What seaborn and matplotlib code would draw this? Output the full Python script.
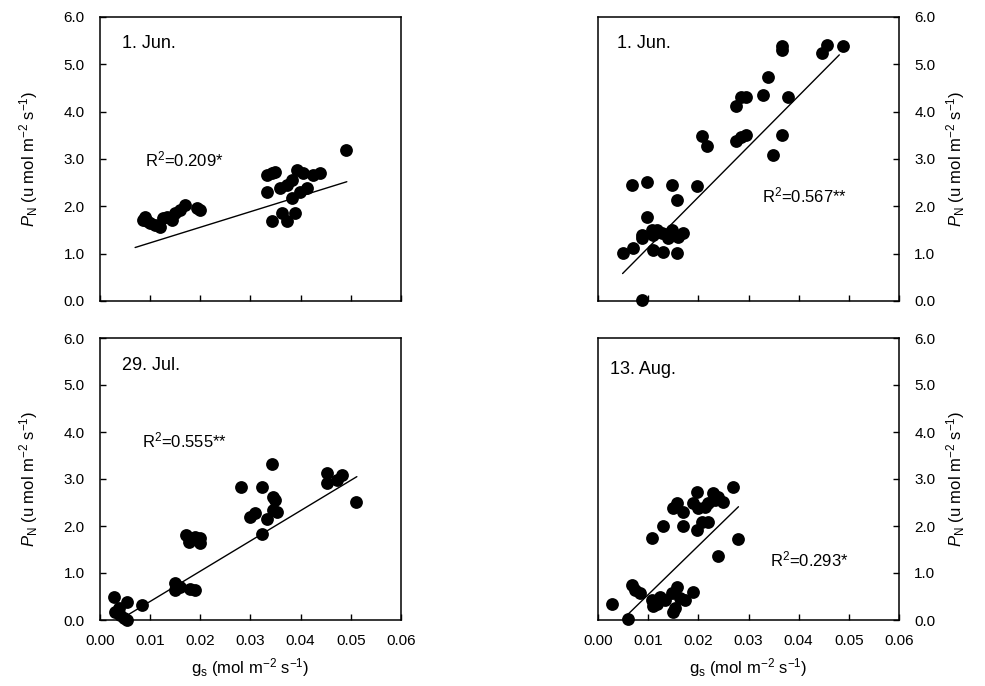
import numpy as np
import matplotlib
matplotlib.use("Agg")
import matplotlib.pyplot as plt
import seaborn as sns

sns.set_style("ticks")
plt.rcParams['font.family'] = ['Liberation Sans', 'DejaVu Sans']
plt.rcParams['mathtext.fontset'] = 'custom'
plt.rcParams['mathtext.rm'] = 'Liberation Sans'
plt.rcParams['mathtext.it'] = 'Liberation Sans:italic'
plt.rcParams['mathtext.bf'] = 'Liberation Sans:bold'
plt.rcParams['text.color'] = 'black'
plt.rcParams['axes.labelcolor'] = 'black'

# --- data ---
# top left, 1. Jun.
jun_a_gs = [0.0085, 0.0090, 0.0093, 0.0100, 0.0110, 0.0120, 0.0126, 0.0133, 0.0143, 0.0150,
            0.0159, 0.0169, 0.0193, 0.0199, 0.0332, 0.0342, 0.0349, 0.0332, 0.0342, 0.0362,
            0.0372, 0.0389, 0.0359, 0.0372, 0.0382, 0.0392, 0.0382, 0.0399, 0.0405, 0.0412,
            0.0425, 0.0439, 0.0490]
jun_a_pn = [1.72, 1.78, 1.68, 1.64, 1.61, 1.57, 1.75, 1.78, 1.71, 1.85,
            1.92, 2.03, 1.96, 1.92, 2.66, 2.70, 2.73, 2.31, 1.68, 1.85,
            1.68, 1.85, 2.38, 2.45, 2.56, 2.77, 2.17, 2.31, 2.70, 2.38,
            2.66, 2.70, 3.19]
jun_a_fit_x = [0.0070, 0.0492]
jun_a_fit_y = [1.13, 2.52]

# top right, 1. Jun.
jun_b_gs = [0.0049, 0.0069, 0.0067, 0.0097, 0.0097, 0.0087, 0.0087, 0.0107, 0.0110, 0.0110,
            0.0117, 0.0127, 0.0129, 0.0140, 0.0147, 0.0147, 0.0158, 0.0158, 0.0160, 0.0170,
            0.0198, 0.0207, 0.0218, 0.0087, 0.0276, 0.0286, 0.0296, 0.0276, 0.0286, 0.0296,
            0.0328, 0.0338, 0.0348, 0.0366, 0.0366, 0.0366, 0.0379, 0.0446, 0.0456, 0.0488]
jun_b_pn = [1.01, 1.11, 2.45, 2.52, 1.77, 1.40, 1.33, 1.50, 1.40, 1.08,
            1.50, 1.43, 1.04, 1.33, 1.50, 2.45, 2.14, 1.01, 1.36, 1.43,
            2.43, 3.49, 3.28, 0.02, 3.37, 3.47, 3.51, 4.11, 4.32, 4.32,
            4.36, 4.74, 3.09, 3.51, 5.38, 5.31, 4.32, 5.25, 5.41, 5.38]
jun_b_fit_x = [0.0049, 0.0481]
jun_b_fit_y = [0.58, 5.20]

# bottom left, 29. Jul.
jul_gs = [0.0282, 0.0323, 0.0342, 0.0344, 0.0349, 0.0345, 0.0352, 0.0299, 0.0309, 0.0332,
          0.0322, 0.0452, 0.0452, 0.0472, 0.0482, 0.0510, 0.0171, 0.0178, 0.0189, 0.0199,
          0.0199, 0.0149, 0.0159, 0.0149, 0.0179, 0.0189, 0.0156, 0.0027, 0.0053, 0.0030,
          0.0040, 0.0053, 0.0037, 0.0083, 0.0048]
jul_pn = [2.84, 2.82, 3.32, 2.62, 2.55, 2.34, 2.30, 2.20, 2.27, 2.14,
          1.82, 3.12, 2.92, 2.98, 3.09, 2.52, 1.81, 1.67, 1.77, 1.74,
          1.63, 0.78, 0.71, 0.64, 0.67, 0.64, 0.70, 0.50, 0.39, 0.18,
          0.11, 0.01, 0.25, 0.32, 0.05]
jul_fit_x = [0.0048, 0.0512]
jul_fit_y = [0.06, 3.05]

# bottom right, 13. Aug.
aug_gs = [0.0270, 0.0198, 0.0230, 0.0240, 0.0250, 0.0157, 0.0150, 0.0170, 0.0190, 0.0200,
          0.0213, 0.0220, 0.0233, 0.0129, 0.0169, 0.0207, 0.0220, 0.0198, 0.0107, 0.0280,
          0.0240, 0.0027, 0.0060, 0.0067, 0.0074, 0.0084, 0.0107, 0.0117, 0.0124, 0.0134,
          0.0147, 0.0157, 0.0153, 0.0163, 0.0173, 0.0110, 0.0190, 0.0150]
aug_pn = [2.82, 2.73, 2.70, 2.62, 2.52, 2.48, 2.38, 2.30, 2.49, 2.38,
          2.41, 2.48, 2.55, 2.00, 2.00, 2.09, 2.09, 1.91, 1.74, 1.72,
          1.36, 0.35, 0.02, 0.74, 0.64, 0.57, 0.43, 0.35, 0.50, 0.43,
          0.57, 0.71, 0.25, 0.46, 0.43, 0.30, 0.60, 0.18]
aug_fit_x = [0.0050, 0.0280]
aug_fit_y = [0.02, 2.41]

panel_titles = ['1. Jun.', '1. Jun.', '29. Jul.', '13. Aug.']
r2_labels = [r'R$^2$=0.209*', r'R$^2$=0.567**', r'R$^2$=0.555**', r'R$^2$=0.293*']
r2_pos = [(0.15, 0.50), (0.544, 0.37), (0.138, 0.638), (0.571, 0.213)]

x_ticks = [0.00, 0.01, 0.02, 0.03, 0.04, 0.05, 0.06]
y_ticks = [0.0, 1.0, 2.0, 3.0, 4.0, 5.0, 6.0]

ylab = r'$P_{\mathrm{N}}$ (u mol m$^{-2}$ s$^{-1}$)'
xlab = r'g$_{\mathrm{s}}$ (mol m$^{-2}$ s$^{-1}$)'

fig = plt.figure(figsize=(9.85, 6.86), dpi=100)
W, H = 985, 686
boxes = [
    (100, 17, 301, 284),   # top left
    (598, 17, 301, 284),   # top right
    (100, 338, 301, 282),  # bottom left
    (598, 338, 301, 282),  # bottom right
]
panels = [
    (jun_a_gs, jun_a_pn, jun_a_fit_x, jun_a_fit_y),
    (jun_b_gs, jun_b_pn, jun_b_fit_x, jun_b_fit_y),
    (jul_gs, jul_pn, jul_fit_x, jul_fit_y),
    (aug_gs, aug_pn, aug_fit_x, aug_fit_y),
]

for i, (box, (gx, pn, fx, fy)) in enumerate(zip(boxes, panels)):
    left, top, w, h = box
    ax = fig.add_axes([left / W, 1 - (top + h) / H, w / W, h / H])
    sns.lineplot(x=fx, y=fy, ax=ax, color='black', linewidth=1.0)
    sns.scatterplot(x=gx, y=pn, ax=ax, color='black', s=85, linewidth=0, clip_on=False, zorder=3)
    ax.set_xlim(0, 0.06)
    ax.set_ylim(0, 6)
    ax.set_xticks(x_ticks)
    ax.set_yticks(y_ticks)
    ax.set_yticklabels([f'{v:.1f}' for v in y_ticks])
    ax.tick_params(direction='in', length=4, width=1, labelsize=11, colors='black')
    ax.tick_params(axis='x', pad=10)
    ax.tick_params(axis='y', pad=11)
    for s in ax.spines.values():
        s.set_visible(True)
        s.set_color('black')
        s.set_linewidth(1.1)
    right_col = i % 2 == 1
    if right_col:
        ax.yaxis.tick_right()
        ax.yaxis.set_label_position('right')
        ax.set_ylabel(ylab, fontsize=12, labelpad=6)
    else:
        ax.set_ylabel(ylab, fontsize=12, labelpad=17)
    if i < 2:
        ax.set_xticklabels([])
        ax.set_xlabel('')
    else:
        ax.set_xticklabels([f'{v:.2f}' for v in x_ticks])
        ax.set_xlabel(xlab, fontsize=12, labelpad=6)
    ty = 0.908 if i < 2 else (0.904 if i == 2 else 0.887)
    tx = 0.072 if i != 3 else 0.04
    if i == 1:
        tx = 0.062
    ax.text(tx, ty, panel_titles[i], transform=ax.transAxes, fontsize=13, va='center', ha='left')
    rx, ry = r2_pos[i]
    ax.text(rx, ry, r2_labels[i], transform=ax.transAxes, fontsize=12, va='center', ha='left')

fig.savefig('out.png', dpi=100)
